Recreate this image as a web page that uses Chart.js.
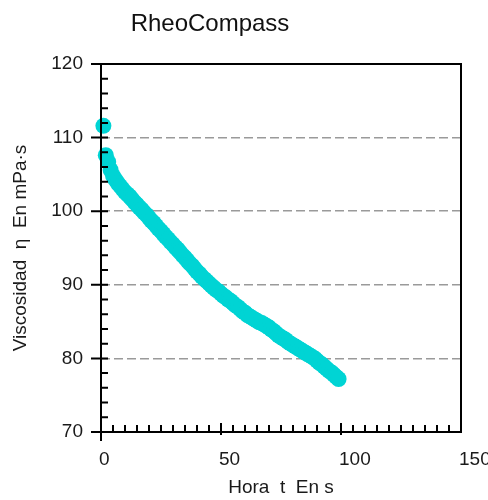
<!DOCTYPE html>
<html>
<head>
<meta charset="utf-8">
<script src="https://cdn.jsdelivr.net/npm/chart.js@4.4.1/dist/chart.umd.min.js"></script>
<style>
  html, body { margin: 0; padding: 0; background: #fff; }
  #wrap { width: 488px; height: 500px; }
</style>
</head>
<body>
<div id="wrap"><canvas id="rheo-chart" width="488" height="500"></canvas></div>
<script>
// Datos (tiempo en s, viscosidad en mPa·s).
var tiempo = [
  1, 2, 3, 4, 5, 6, 7, 8, 9, 10, 11, 12, 13, 14, 15, 16, 17, 18, 19, 20,
  21, 22, 23, 24, 25, 26, 27, 28, 29, 30, 31, 32, 33, 34, 35, 36, 37, 38, 39, 40,
  41, 42, 43, 44, 45, 46, 47, 48, 49, 50, 51, 52, 53, 54, 55, 56, 57, 58, 59, 60,
  61, 62, 63, 64, 65, 66, 67, 68, 69, 70, 71, 72, 73, 74, 75, 76, 77, 78, 79, 80,
  81, 82, 83, 84, 85, 86, 87, 88, 89, 90, 91, 92, 93, 94, 95, 96, 97, 98, 99
];
var viscosidad = [
  111.6, 107.6, 106.7, 105.6, 104.8, 104.3, 103.8, 103.4, 103.0, 102.6,
  102.3, 102.0, 101.6, 101.2, 100.9, 100.5, 100.2, 99.8, 99.5, 99.1,
  98.7, 98.4, 98.0, 97.6, 97.3, 96.9, 96.5, 96.2, 95.8, 95.5,
  95.1, 94.8, 94.4, 94.0, 93.7, 93.3, 92.9, 92.6, 92.2, 91.8,
  91.5, 91.1, 90.8, 90.5, 90.2, 89.9, 89.6, 89.3, 89.1, 88.8,
  88.5, 88.3, 88.0, 87.8, 87.5, 87.2, 87.0, 86.7, 86.4, 86.2,
  85.9, 85.7, 85.5, 85.3, 85.1, 84.9, 84.8, 84.6, 84.4, 84.2,
  83.9, 83.7, 83.4, 83.1, 82.9, 82.7, 82.5, 82.2, 82.0, 81.8,
  81.6, 81.4, 81.2, 81.0, 80.8, 80.6, 80.4, 80.2, 80.0, 79.7,
  79.4, 79.2, 78.9, 78.6, 78.3, 78.1, 77.8, 77.5, 77.2
];
var xTicks = [0, 50, 100, 150];
var yTicks = [70, 80, 90, 100, 110, 120];

var titulo = "RheoCompass";
var tituloX = "Hora  t  En s";
var tituloY = "Viscosidad  \u03B7  En mPa\u00B7s";

var FONT = '"Liberation Sans", Arial, sans-serif';

// Marco, marcas menores/mayores y titulo.
var marcoPlugin = {
  id: "marco",
  afterDraw: function (chart) {
    var ctx = chart.ctx;
    var xs = chart.scales.x;
    var ys = chart.scales.y;
    var a = chart.chartArea;
    ctx.save();
    ctx.strokeStyle = "#000";
    ctx.lineWidth = 2;
    ctx.beginPath();
    ctx.moveTo(a.left, a.top);
    ctx.lineTo(a.right, a.top);
    ctx.lineTo(a.right, a.bottom);
    ctx.lineTo(a.left, a.bottom);
    ctx.lineTo(a.left, a.top);
    for (var v = ys.min; v <= ys.max; v += 2) {
      var py = ys.getPixelForValue(v);
      var mayor = v % 10 === 0;
      ctx.moveTo(mayor ? a.left - 10 : a.left, py);
      ctx.lineTo(a.left + 7, py);
    }
    for (var t = xs.min; t < xs.max; t += 5) {
      var px = xs.getPixelForValue(t);
      var esMayor = t % 50 === 0;
      ctx.moveTo(px, a.bottom - (esMayor ? 9 : 7));
      ctx.lineTo(px, a.bottom + (t === 0 ? 9 : esMayor ? 3 : 0));
    }
    ctx.stroke();

    ctx.fillStyle = "#111";
    ctx.font = "24px " + FONT;
    ctx.textAlign = "center";
    ctx.textBaseline = "middle";
    ctx.fillText(titulo, 210, 24);
    ctx.restore();
  },
};

var ctx = document.getElementById("rheo-chart").getContext("2d");
var rheoChart = new Chart(ctx, {
  type: "scatter",
  data: {
    datasets: [
      {
        label: "Viscosidad",
        data: tiempo.map(function (t, i) {
          return { x: t, y: viscosidad[i] };
        }),
        backgroundColor: "#00d4d4",
        borderWidth: 0,
        pointRadius: 8,
        pointHoverRadius: 8,
        clip: false,
      },
    ],
  },
  options: {
    responsive: false,
    animation: false,
    events: [],
    layout: { padding: { top: 64, right: 27, bottom: 0, left: 0 } },
    plugins: {
      legend: { display: false },
      title: { display: false },
      tooltip: { enabled: false },
    },
    scales: {
      x: {
        type: "linear",
        min: 0,
        max: 150,
        afterBuildTicks: function (scale) {
          scale.ticks = xTicks.map(function (v) { return { value: v }; });
        },
        afterFit: function (scale) {
          scale.height = 68;
          scale.paddingLeft = 0;
          scale.paddingRight = 0;
        },
        grid: { display: false },
        border: { display: false },
        ticks: {
          align: "start",
          labelOffset: -2,
          padding: 8,
          maxRotation: 0,
          autoSkip: false,
          color: "#1a1a1a",
          font: { family: FONT, size: 19 },
        },
        title: {
          display: true,
          text: tituloX,
          color: "#1a1a1a",
          font: { family: FONT, size: 19 },
          padding: { top: 0, bottom: 1 },
        },
      },
      y: {
        type: "linear",
        min: 70,
        max: 120,
        afterBuildTicks: function (scale) {
          scale.ticks = yTicks.map(function (v) { return { value: v }; });
        },
        afterFit: function (scale) {
          scale.width = 101;
          scale.paddingTop = 0;
          scale.paddingBottom = 0;
        },
        grid: {
          color: "#9a9a9a",
          lineWidth: 1.5,
          drawTicks: false,
        },
        border: { display: false, dash: [9, 4] },
        ticks: {
          padding: 18,
          autoSkip: false,
          color: "#1a1a1a",
          font: { family: FONT, size: 19 },
        },
        title: {
          display: true,
          text: tituloY,
          color: "#1a1a1a",
          font: { family: FONT, size: 19 },
          padding: { top: 9, bottom: 0 },
        },
      },
    },
  },
  plugins: [marcoPlugin],
});
</script>
</body>
</html>
